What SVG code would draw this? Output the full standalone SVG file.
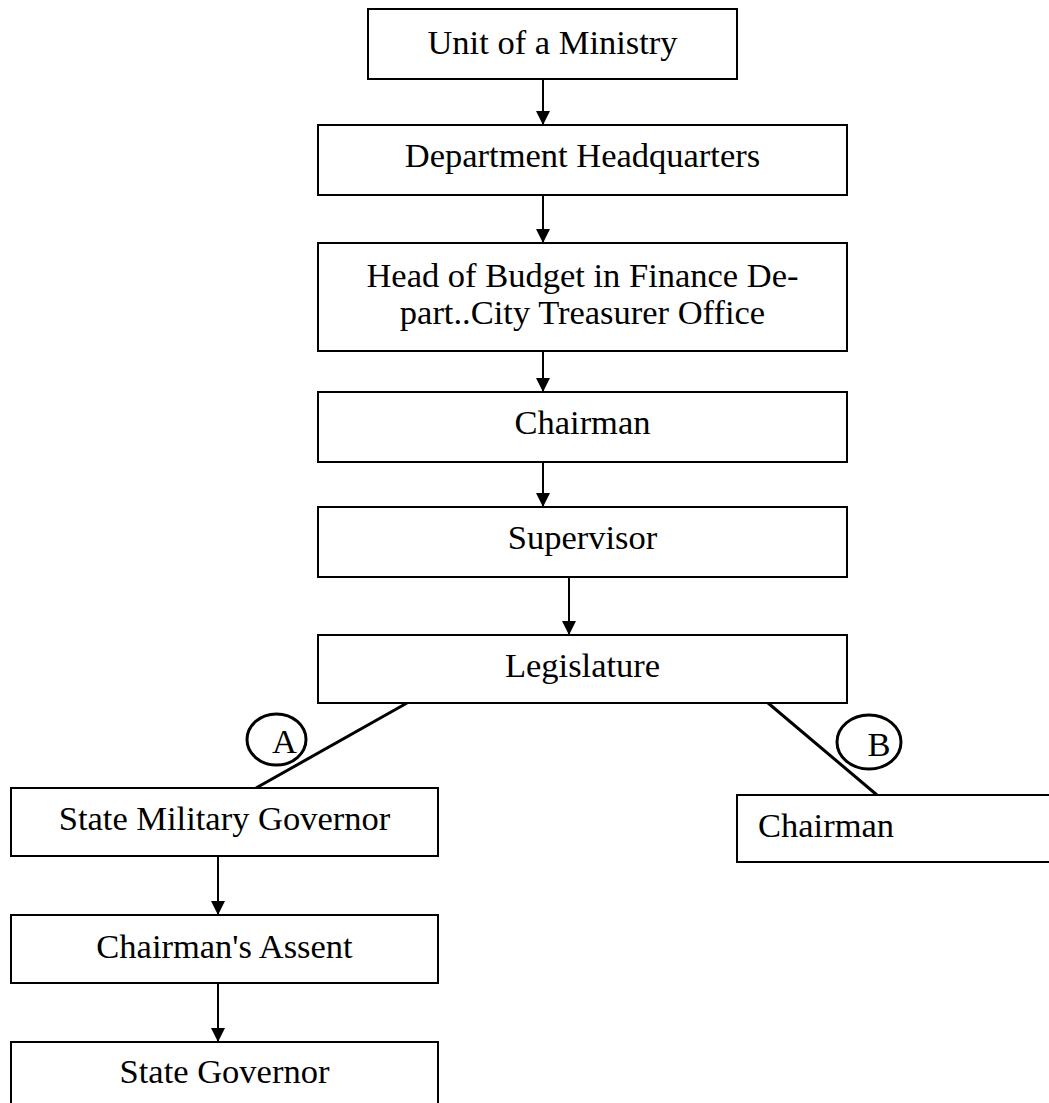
<svg xmlns="http://www.w3.org/2000/svg" width="1049" height="1103" viewBox="0 0 1049 1103">
<style>
  .box { fill: #fff; stroke: #000; stroke-width: 2; }
  .lbl { font-family: "Liberation Serif", "Times New Roman", serif; font-size: 34.5px; fill: #000; text-anchor: middle; }
  .conn { stroke: #000; stroke-width: 2; fill: none; }
  .diag { stroke: #000; stroke-width: 3; fill: none; }
  .ring { stroke: #000; stroke-width: 3; fill: none; }
</style>
<defs>
  <marker id="arr" viewBox="0 0 14 14" refX="14" refY="7" markerWidth="14" markerHeight="14" markerUnits="userSpaceOnUse" orient="auto">
    <path d="M0,0 L14,7 L0,14 Z" fill="#000"/>
  </marker>
</defs>
<rect width="1049" height="1103" fill="#fff"/>
<g id="connectors">
  <line class="conn" x1="543" y1="79" x2="543" y2="125" marker-end="url(#arr)"/>
  <line class="conn" x1="543" y1="195" x2="543" y2="243" marker-end="url(#arr)"/>
  <line class="conn" x1="543" y1="348" x2="543" y2="392" marker-end="url(#arr)"/>
  <line class="conn" x1="543" y1="462" x2="543" y2="507" marker-end="url(#arr)"/>
  <line class="conn" x1="569" y1="577" x2="569" y2="635" marker-end="url(#arr)"/>
  <line class="diag" x1="407" y1="703" x2="256" y2="788"/>
  <line class="diag" x1="768" y1="703" x2="877" y2="795"/>
  <line class="conn" x1="218" y1="856" x2="218" y2="915" marker-end="url(#arr)"/>
  <line class="conn" x1="218" y1="980" x2="218" y2="1042" marker-end="url(#arr)"/>
</g>
<g id="node-unit">
  <rect class="box" x="368" y="9" width="369" height="70"/>
  <text class="lbl" x="552.5" y="54">Unit of a Ministry</text>
</g>
<g id="node-dept">
  <rect class="box" x="318" y="125" width="529" height="70"/>
  <text class="lbl" x="582.5" y="167">Department Headquarters</text>
</g>
<g id="node-budget">
  <rect class="box" x="318" y="243" width="529" height="108"/>
  <text class="lbl" x="582.5" y="287">Head of Budget in Finance De-</text>
  <text class="lbl" x="582.5" y="324">part..City Treasurer Office</text>
</g>
<g id="node-chairman">
  <rect class="box" x="318" y="392" width="529" height="70"/>
  <text class="lbl" x="582.5" y="434">Chairman</text>
</g>
<g id="node-supervisor">
  <rect class="box" x="318" y="507" width="529" height="70"/>
  <text class="lbl" x="582.5" y="549">Supervisor</text>
</g>
<g id="node-legislature">
  <rect class="box" x="318" y="635" width="529" height="68"/>
  <text class="lbl" x="582.5" y="677">Legislature</text>
</g>
<g id="label-a">
  <ellipse class="ring" cx="276.5" cy="739.5" rx="29.5" ry="25.5"/>
  <text class="lbl" x="284.5" y="753">A</text>
</g>
<g id="label-b">
  <ellipse class="ring" cx="869" cy="742" rx="32" ry="27"/>
  <text class="lbl" x="879" y="756">B</text>
</g>
<g id="node-smg">
  <rect class="box" x="11" y="788" width="427" height="68"/>
  <text class="lbl" x="224.5" y="830">State Military Governor</text>
</g>
<g id="node-chairman-b">
  <rect class="box" x="737" y="795" width="330" height="67"/>
  <text class="lbl" x="758" y="837" style="text-anchor:start">Chairman</text>
</g>
<g id="node-assent">
  <rect class="box" x="11" y="915" width="427" height="68"/>
  <text class="lbl" x="224.5" y="958">Chairman's Assent</text>
</g>
<g id="node-governor">
  <rect class="box" x="11" y="1042" width="427" height="70"/>
  <text class="lbl" x="224.5" y="1083">State Governor</text>
</g>
</svg>
